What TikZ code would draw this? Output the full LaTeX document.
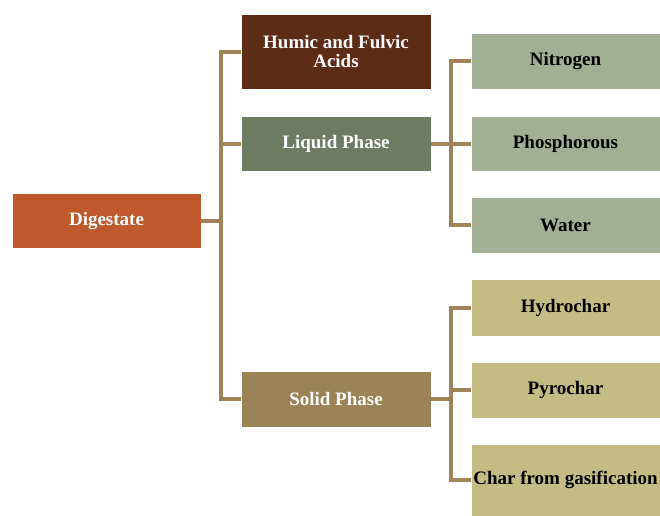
\documentclass[tikz,border=0pt]{standalone}
\usepackage{fontspec}
\setmainfont{Liberation Serif}
\definecolor{cDig}{HTML}{BF582C}
\definecolor{cHum}{HTML}{5D2C17}
\definecolor{cLiq}{HTML}{6F7A62}
\definecolor{cLiqL}{HTML}{A3AF95}
\definecolor{cSol}{HTML}{9B8257}
\definecolor{cSolL}{HTML}{C4BC84}
\definecolor{cConn}{HTML}{A08457}
\tikzset{
  box/.style={rectangle, draw=white, line width=0.6pt, inner sep=0pt, align=center,
    font=\fontsize{19}{19}\selectfont\bfseries},
  darkbox/.style={box, text=white},
  lightbox/.style={box, text=black, minimum width=189pt},
  conn/.style={draw=cConn, line width=4pt, line join=miter},
}
\begin{document}
\begin{tikzpicture}[x=1pt,y=-1pt]
\useasboundingbox (0,0) rectangle (660,515);
\fill[white] (0,0) rectangle (660,515);
% level 1
\node[darkbox, fill=cDig, minimum width=189pt, minimum height=55pt] (dig) at (106.5,220.5) {Digestate};
% level 2
\node[darkbox, fill=cHum, minimum width=190pt, minimum height=75pt] (humic) at (336,51.5) {Humic and Fulvic\\Acids};
\node[darkbox, fill=cLiq, minimum width=190pt, minimum height=55pt] (liquid) at (336,143.5) {Liquid Phase};
\node[darkbox, fill=cSol, minimum width=190pt, minimum height=56pt] (solid) at (336,399) {Solid Phase};
% level 3
\node[lightbox, fill=cLiqL, minimum height=56pt] (nitro) at (565.5,61) {Nitrogen};
\node[lightbox, fill=cLiqL, minimum height=55pt] (phos) at (565.5,143.5) {Phosphorous};
\node[lightbox, fill=cLiqL, minimum height=56pt] (water) at (565.5,225) {Water};
\node[lightbox, fill=cSolL, minimum height=57pt] (hydro) at (565.5,307.5) {Hydrochar};
\node[lightbox, fill=cSolL, minimum height=56pt] (pyro) at (565.5,390) {Pyrochar};
\node[lightbox, fill=cSolL, minimum height=72pt] (charg) at (565.5,480) {Char from gasification};
% bus coordinates
\coordinate (bx) at (220.5,0);
\coordinate (lx) at (451,0);
% connectors
\draw[conn] (humic.west) -- (humic.west -| bx) |- (solid.west);
\draw[conn] (dig.east) -- (dig.east -| bx);
\draw[conn] (liquid.west) -- (liquid.west -| bx);
\draw[conn] (nitro.west) -- (nitro.west -| lx) |- (water.west);
\draw[conn] (liquid.east) -- (phos.west);
\draw[conn] (hydro.west) -- (hydro.west -| lx) |- (charg.west);
\draw[conn] (solid.east) -- (solid.east -| lx);
\draw[conn] (pyro.west) -- (pyro.west -| lx);
\end{tikzpicture}
\end{document}
